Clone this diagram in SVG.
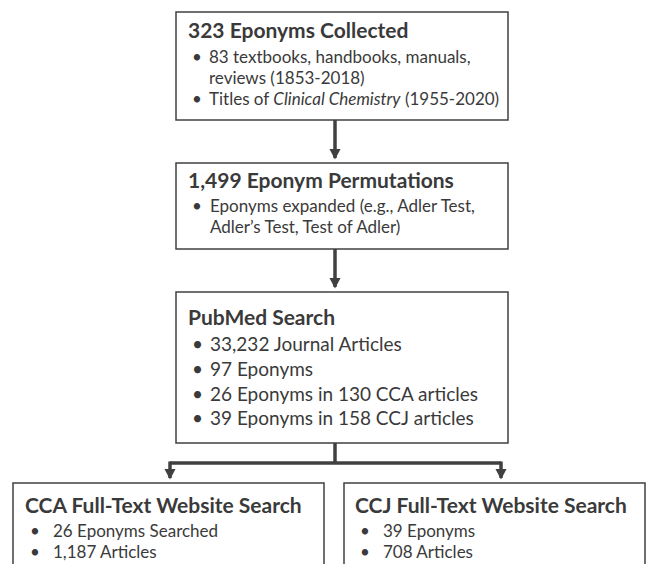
<svg xmlns="http://www.w3.org/2000/svg" width="646" height="564" viewBox="0 0 646 564">
<style>
.box{fill:#fff;stroke:#404040;stroke-width:1.5}
.t{font-family:Lato,"Open Sans",sans-serif;font-weight:bold;font-size:21px;fill:#3a3a3a}
.b{font-family:Lato,"Open Sans",sans-serif;font-size:17px;fill:#3a3a3a}
.b2{font-family:Lato,"Open Sans",sans-serif;font-size:19px;fill:#3a3a3a}
.c{fill:none;stroke:#404040;stroke-width:3.5}
</style>
<defs>
<marker id="ah" markerWidth="4" markerHeight="4" refX="2.6" refY="2" orient="auto" markerUnits="strokeWidth">
<path d="M0,0.4 L3,2 L0,3.6 Z" fill="#404040"/>
</marker>
</defs>
<rect width="646" height="564" fill="#fff"/>
<g id="connectors">
<path class="c" d="M335,120 V158" marker-end="url(#ah)"/>
<path class="c" d="M335,249 V287" marker-end="url(#ah)"/>
<path class="c" d="M335,443 V463"/>
<path class="c" d="M170,463 H501"/>
<path class="c" d="M170,461.5 V478" marker-end="url(#ah)"/>
<path class="c" d="M501,461.5 V478" marker-end="url(#ah)"/>
</g>
<g id="n1">
<rect class="box" x="176" y="12" width="332" height="108"/>
<text class="t" x="188" y="38">323 Eponyms Collected</text>
<text class="b" x="192" y="63">•</text>
<text class="b" x="209" y="63">83 textbooks, handbooks, manuals,</text>
<text class="b" x="209" y="84">reviews (1853-2018)</text>
<text class="b" x="192" y="105">•</text>
<text class="b" x="209" y="105">Titles of <tspan font-style="italic">Clinical Chemistry</tspan> (1955-2020)</text>
</g>
<g id="n2">
<rect class="box" x="176" y="163" width="332" height="86"/>
<text class="t" x="188" y="188">1,499 Eponym Permutations</text>
<text class="b" x="192" y="212">•</text>
<text class="b" x="210" y="212">Eponyms expanded (e.g., Adler Test,</text>
<text class="b" x="210" y="233">Adler’s Test, Test of Adler)</text>
</g>
<g id="n3">
<rect class="box" x="176" y="292" width="332" height="151"/>
<text class="t" x="188" y="325">PubMed Search</text>
<text class="b2" x="192" y="351">•</text>
<text class="b2" x="210" y="351">33,232 Journal Articles</text>
<text class="b2" x="192" y="376">•</text>
<text class="b2" x="210" y="376">97 Eponyms</text>
<text class="b2" x="192" y="401">•</text>
<text class="b2" x="210" y="401">26 Eponyms in 130 CCA articles</text>
<text class="b2" x="192" y="425">•</text>
<text class="b2" x="210" y="425">39 Eponyms in 158 CCJ articles</text>
</g>
<g id="n4">
<rect class="box" x="13" y="483" width="311" height="120"/>
<text class="t" x="25" y="513">CCA Full-Text Website Search</text>
<text class="b" x="30" y="537">•</text>
<text class="b" x="53" y="537">26 Eponyms Searched</text>
<text class="b" x="30" y="558">•</text>
<text class="b" x="53" y="558">1,187 Articles</text>
</g>
<g id="n5">
<rect class="box" x="344" y="483" width="301" height="120"/>
<text class="t" x="355" y="513">CCJ Full-Text Website Search</text>
<text class="b" x="360" y="537">•</text>
<text class="b" x="383" y="537">39 Eponyms</text>
<text class="b" x="360" y="558">•</text>
<text class="b" x="383" y="558">708 Articles</text>
</g>
</svg>
